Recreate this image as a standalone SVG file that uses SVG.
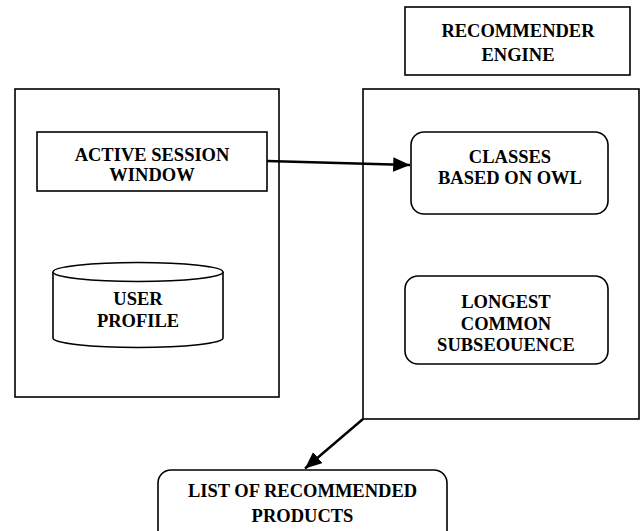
<svg xmlns="http://www.w3.org/2000/svg" width="644" height="531" viewBox="0 0 644 531">
<style>
.box{fill:#fff;stroke:#000;stroke-width:1.6}
.t{font-family:"Liberation Serif","Times New Roman",serif;font-weight:bold;font-size:18.5px;fill:#000;text-anchor:middle}
.c{stroke:#000;stroke-width:2.4;fill:none}
</style>
<defs>
<marker id="ah" markerWidth="8" markerHeight="8" refX="7" refY="3" orient="auto" markerUnits="strokeWidth">
<path d="M0,0 L7,3 L0,6 z" fill="#000"/>
</marker>
</defs>
<rect width="644" height="531" fill="#fff"/>
<g id="recommender-engine-label">
<rect class="box" x="405" y="7" width="225" height="68"/>
<text class="t" x="518" y="36.5">RECOMMENDER</text>
<text class="t" x="518" y="61">ENGINE</text>
</g>
<g id="left-container">
<rect class="box" x="15" y="89" width="264" height="308"/>
</g>
<g id="right-container">
<rect class="box" x="363" y="89" width="276" height="330"/>
</g>
<g id="active-session-window">
<rect class="box" x="37" y="132" width="230" height="59"/>
<text class="t" x="152" y="160.5">ACTIVE SESSION</text>
<text class="t" x="152" y="180.5">WINDOW</text>
</g>
<g id="user-profile">
<path class="box" d="M53,272 L53,338 A85,9.5 0 0 0 223,338 L223,272"/>
<ellipse class="box" cx="138" cy="272" rx="85" ry="9.5"/>
<text class="t" x="138" y="305">USER</text>
<text class="t" x="138" y="327">PROFILE</text>
</g>
<g id="classes-based-on-owl">
<rect class="box" x="411" y="132" width="197" height="82" rx="13" ry="13"/>
<text class="t" x="510" y="163">CLASSES</text>
<text class="t" x="510" y="184">BASED ON OWL</text>
</g>
<g id="longest-common-subsequence">
<rect class="box" x="405" y="276" width="203" height="88" rx="13" ry="13"/>
<text class="t" x="506" y="308">LONGEST</text>
<text class="t" x="506" y="330">COMMON</text>
<text class="t" x="506" y="351">SUBSEOUENCE</text>
</g>
<g id="list-of-recommended-products">
<rect class="box" x="158" y="470" width="289" height="75" rx="13" ry="13"/>
<text class="t" x="302.5" y="497">LIST OF RECOMMENDED</text>
<text class="t" x="302.5" y="521.5">PRODUCTS</text>
</g>
<g id="connectors">
<line class="c" x1="267" y1="161" x2="410" y2="165" marker-end="url(#ah)"/>
<line class="c" x1="363" y1="419" x2="305" y2="468.5" marker-end="url(#ah)"/>
</g>
</svg>
